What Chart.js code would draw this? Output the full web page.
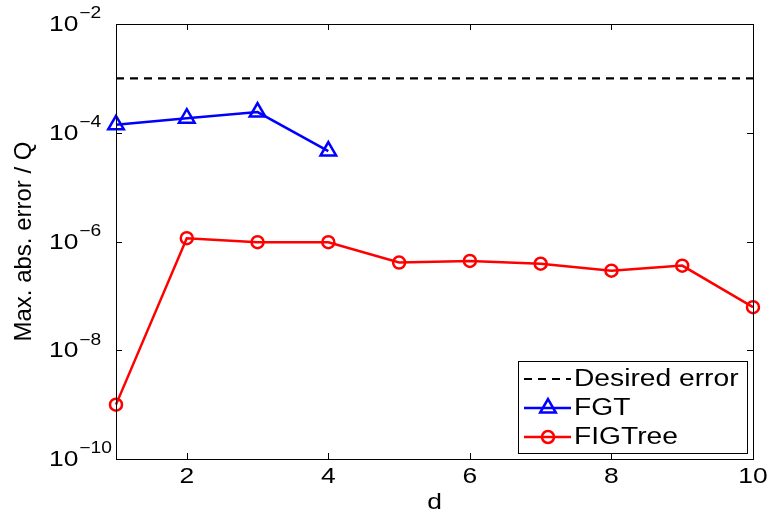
<!DOCTYPE html>
<html>
<head>
<meta charset="utf-8">
<script src="https://cdn.jsdelivr.net/npm/chart.js@4/dist/chart.umd.min.js"></script>
<style>
  body { margin: 0; background: #fff; }
  #wrap { width: 772px; height: 512px; }
</style>
</head>
<body>
<div id="wrap"><canvas id="errChart" width="772" height="512"></canvas></div>
<script>
// error vs dimension d
const dims = [1, 2, 3, 4, 5, 6, 7, 8, 9, 10];
const fgtDims = [1, 2, 3, 4];
const fgtErrors = [1.4e-4, 1.85e-4, 2.4e-4, 4.6e-5];
const figtreeErrors = [1.0e-9, 1.15e-6, 9.7e-7, 9.7e-7, 4.1e-7, 4.4e-7, 3.9e-7, 2.9e-7, 3.6e-7, 6.2e-8];
const desiredError = 1e-3;
const xTicks = [2, 4, 6, 8, 10];
const yExponents = [-10, -8, -6, -4, -2];
const legendLabels = ["Desired error", "FGT", "FIGTree"];

const FONT = '"Liberation Sans", Arial, Helvetica, sans-serif';
const SX = 1.2; // text looks a bit wide, stretch horizontally

function drawText(ctx, text, x, y, size, align) {
  ctx.save();
  ctx.font = `${size}px ${FONT}`;
  const w = ctx.measureText(text).width * SX;
  let left = x;
  if (align === "center") left = x - w / 2;
  if (align === "right") left = x - w;
  ctx.translate(left, y);
  ctx.scale(SX, 1);
  ctx.textAlign = "left";
  ctx.textBaseline = "middle";
  ctx.fillStyle = "#000";
  ctx.fillText(text, 0, 0);
  ctx.restore();
  return w;
}

// box, inward ticks, labels and legend in matlab style
const matlabAxes = {
  id: "matlabAxes",
  afterDraw(chart) {
    const ctx = chart.ctx;
    const { left, right, top, bottom } = chart.chartArea;
    const xs = chart.scales.x;
    const ys = chart.scales.y;
    const tick = 6;

    ctx.save();
    ctx.strokeStyle = "#000";
    ctx.lineWidth = 1;
    ctx.strokeRect(Math.round(left) + 0.5, Math.round(top) + 0.5, Math.round(right - left), Math.round(bottom - top));

    ctx.beginPath();
    xTicks.forEach((v) => {
      const px = Math.round(xs.getPixelForValue(v)) + 0.5;
      ctx.moveTo(px, bottom);
      ctx.lineTo(px, bottom - tick);
      ctx.moveTo(px, top);
      ctx.lineTo(px, top + tick);
    });
    yExponents.forEach((e) => {
      const py = Math.round(ys.getPixelForValue(Math.pow(10, e))) + 0.5;
      ctx.moveTo(left, py);
      ctx.lineTo(left + tick, py);
      ctx.moveTo(right, py);
      ctx.lineTo(right - tick, py);
    });
    ctx.stroke();
    ctx.restore();

    // tick labels
    xTicks.forEach((v) => {
      drawText(ctx, String(v), xs.getPixelForValue(v), bottom + 18, 22, "center");
    });
    yExponents.forEach((e) => {
      const py = ys.getPixelForValue(Math.pow(10, e));
      const w = drawText(ctx, "10", 49, py + 1, 22, "left");
      drawText(ctx, "\u2212" + Math.abs(e), 49 + w + 1, py - 10, 16, "left");
    });

    // axis titles
    drawText(ctx, "d", (left + right) / 2, bottom + 44, 22, "center");
    ctx.save();
    ctx.translate(24, (top + bottom) / 2);
    ctx.rotate(-Math.PI / 2);
    ctx.font = `24px ${FONT}`;
    ctx.textAlign = "center";
    ctx.textBaseline = "middle";
    ctx.fillStyle = "#000";
    ctx.fillText("Max. abs. error / Q", 0, 0);
    ctx.restore();

    // legend
    const bx = 518, by = 361, bw = 229, bh = 92;
    ctx.save();
    ctx.fillStyle = "#fff";
    ctx.fillRect(bx, by, bw, bh);
    ctx.strokeStyle = "#000";
    ctx.lineWidth = 1;
    ctx.strokeRect(bx + 0.5, by + 0.5, bw, bh);
    ctx.restore();

    const rows = [379, 408, 437];
    chart.data.datasets.forEach((ds, i) => {
      const y = rows[i];
      ctx.save();
      ctx.strokeStyle = ds.borderColor;
      ctx.lineWidth = ds.borderWidth;
      ctx.setLineDash(ds.borderDash || []);
      ctx.beginPath();
      ctx.moveTo(524, y);
      ctx.lineTo(571, y);
      ctx.stroke();
      ctx.restore();
      if (ds.pointRadius > 0) {
        ctx.save();
        ctx.strokeStyle = ds.borderColor;
        ctx.fillStyle = "rgba(0,0,0,0)";
        ctx.lineWidth = ds.pointBorderWidth;
        Chart.helpers.drawPoint(ctx, { pointStyle: ds.pointStyle, radius: ds.pointRadius, borderWidth: ds.pointBorderWidth, rotation: 0 }, 548, y);
        ctx.restore();
      }
      drawText(ctx, legendLabels[i], 574, y + 1, 23.5, "left");
    });
  },
};

new Chart(document.getElementById("errChart"), {
  type: "line",
  data: {
    datasets: [
      {
        label: legendLabels[0],
        data: [dims[0], dims[dims.length - 1]].map((x) => ({ x, y: desiredError })),
        borderColor: "#000",
        borderWidth: 2.2,
        borderDash: [8, 6],
        pointRadius: 0,
      },
      {
        label: legendLabels[1],
        data: fgtDims.map((x, i) => ({ x, y: fgtErrors[i] })),
        borderColor: "#0000ff",
        borderWidth: 2.5,
        pointStyle: "triangle",
        pointRadius: 9,
        pointBorderWidth: 2.5,
        pointBackgroundColor: "rgba(0,0,0,0)",
      },
      {
        label: legendLabels[2],
        data: dims.map((x, i) => ({ x, y: figtreeErrors[i] })),
        borderColor: "#ff0000",
        borderWidth: 2.5,
        pointStyle: "circle",
        pointRadius: 6,
        pointBorderWidth: 2.5,
        pointBackgroundColor: "rgba(0,0,0,0)",
      },
    ],
  },
  options: {
    responsive: false,
    animation: false,
    clip: false,
    layout: { padding: { left: 116, top: 24, right: 19, bottom: 53 } },
    datasets: { line: { clip: false } },
    scales: {
      x: {
        type: "linear",
        min: 1,
        max: 10,
        grid: { display: false, drawTicks: false },
        border: { display: false },
        ticks: { display: false },
      },
      y: {
        type: "logarithmic",
        min: 1e-10,
        max: 1e-2,
        grid: { display: false, drawTicks: false },
        border: { display: false },
        ticks: { display: false },
      },
    },
    plugins: {
      legend: { display: false },
      tooltip: { enabled: false },
    },
  },
  plugins: [matlabAxes],
});
</script>
</body>
</html>
